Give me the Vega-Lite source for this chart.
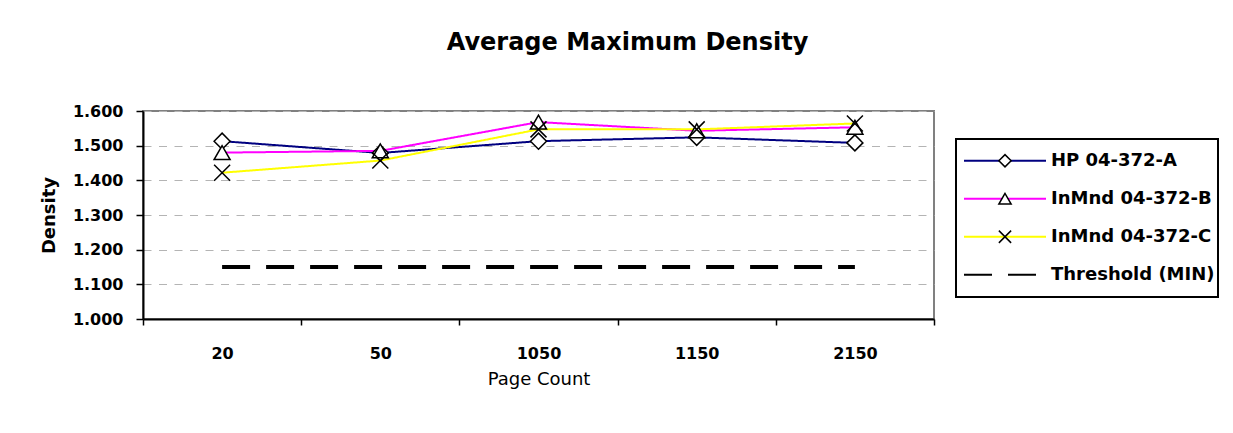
{
  "$schema": "https://vega.github.io/schema/vega-lite/v6.json",
  "width": 791,
  "height": 208,
  "autosize": {"type": "none"},
  "padding": {"left": 143, "top": 111, "right": 299, "bottom": 114},
  "background": "white",
  "title": {
    "text": "Average Maximum Density",
    "font": "DejaVu Sans",
    "fontSize": 24,
    "fontWeight": "bold",
    "color": "black",
    "anchor": "middle",
    "frame": "group",
    "dx": 89,
    "offset": 48
  },
  "config": {
    "font": "DejaVu Sans",
    "view": {"stroke": "#808080", "strokeWidth": 2},
    "legend": {"strokeWidth": 2},
    "axis": {
      "domainColor": "black",
      "domainWidth": 2,
      "tickColor": "black",
      "tickWidth": 1.5,
      "labelFont": "DejaVu Sans",
      "labelFontSize": 16,
      "labelFontWeight": "bold",
      "labelColor": "black",
      "titleFont": "DejaVu Sans",
      "titleColor": "black"
    }
  },
  "data": {
    "values": [
      {"page": 20, "series": "HP 04-372-A", "density": 1.513},
      {"page": 50, "series": "HP 04-372-A", "density": 1.479},
      {"page": 1050, "series": "HP 04-372-A", "density": 1.513},
      {"page": 1150, "series": "HP 04-372-A", "density": 1.524},
      {"page": 2150, "series": "HP 04-372-A", "density": 1.508},
      {"page": 20, "series": "InMnd 04-372-B", "density": 1.480},
      {"page": 50, "series": "InMnd 04-372-B", "density": 1.485},
      {"page": 1050, "series": "InMnd 04-372-B", "density": 1.568},
      {"page": 1150, "series": "InMnd 04-372-B", "density": 1.543},
      {"page": 2150, "series": "InMnd 04-372-B", "density": 1.553},
      {"page": 20, "series": "InMnd 04-372-C", "density": 1.422},
      {"page": 50, "series": "InMnd 04-372-C", "density": 1.457},
      {"page": 1050, "series": "InMnd 04-372-C", "density": 1.547},
      {"page": 1150, "series": "InMnd 04-372-C", "density": 1.547},
      {"page": 2150, "series": "InMnd 04-372-C", "density": 1.564},
      {"page": 20, "series": "Threshold (MIN)", "density": 1.15},
      {"page": 50, "series": "Threshold (MIN)", "density": 1.15},
      {"page": 1050, "series": "Threshold (MIN)", "density": 1.15},
      {"page": 1150, "series": "Threshold (MIN)", "density": 1.15},
      {"page": 2150, "series": "Threshold (MIN)", "density": 1.15}
    ]
  },
  "encoding": {
    "x": {
      "field": "page",
      "type": "ordinal",
      "scale": {"type": "band", "paddingInner": 0, "paddingOuter": 0},
      "axis": {
        "tickBand": "extent",
        "tickSize": 6,
        "labelAngle": 0,
        "labelPadding": 20,
        "grid": false,
        "title": "Page Count",
        "titleFontSize": 18,
        "titleFontWeight": "normal",
        "titlePadding": 9
      }
    },
    "y": {
      "field": "density",
      "type": "quantitative",
      "scale": {"domain": [1.0, 1.6], "nice": false, "zero": false},
      "axis": {
        "values": [1.0, 1.1, 1.2, 1.3, 1.4, 1.5, 1.6],
        "format": ".3f",
        "tickSize": 7,
        "labelPadding": 13,
        "grid": true,
        "gridColor": "#b4b4b4",
        "gridDash": [8, 7.5],
        "gridWidth": 1,
        "title": "Density",
        "titleFontSize": 18,
        "titleFontWeight": "bold",
        "titlePadding": 14
      }
    }
  },
  "layer": [
    {
      "mark": {"type": "line"},
      "encoding": {
        "color": {
          "field": "series",
          "type": "nominal",
          "scale": {
            "domain": ["HP 04-372-A", "InMnd 04-372-B", "InMnd 04-372-C", "Threshold (MIN)"],
            "range": ["#000080", "#FF00FF", "#FFFF00", "#000000"]
          },
          "legend": {
            "orient": "none",
            "legendX": 813,
            "legendY": 28,
            "title": null,
            "symbolType": "stroke",
            "symbolSize": 6724,
            "symbolStrokeWidth": 2,
            "clipHeight": 37.5,
            "rowPadding": 0,
            "padding": 3,
            "strokeColor": "black",
            "symbolOffset": 4,
            "labelOffset": 4,
            "labelFont": "DejaVu Sans",
            "labelFontSize": 18,
            "labelFontWeight": "bold",
            "labelColor": "black",
            "labelLimit": 400
          }
        },
        "strokeDash": {
          "field": "series",
          "type": "nominal",
          "scale": {
            "domain": ["HP 04-372-A", "InMnd 04-372-B", "InMnd 04-372-C", "Threshold (MIN)"],
            "range": [[1, 0], [1, 0], [1, 0], [28, 16]]
          }
        },
        "strokeWidth": {
          "condition": {"test": "datum.series == 'Threshold (MIN)'", "value": 4},
          "value": 2
        }
      }
    },
    {
      "transform": [{"filter": "datum.series != 'Threshold (MIN)'"}],
      "mark": {"type": "point", "filled": false, "fill": "white", "color": "black", "strokeWidth": 1.5, "size": 256, "opacity": 1},
      "encoding": {
        "shape": {
          "field": "series",
          "type": "nominal",
          "scale": {
            "domain": ["HP 04-372-A", "InMnd 04-372-B", "InMnd 04-372-C"],
            "range": ["diamond", "triangle-up", "M-1,-1L1,1M-1,1L1,-1"]
          },
          "legend": {
            "orient": "none",
            "legendX": 813,
            "legendY": 28,
            "title": null,
            "symbolSize": 150,
            "symbolFillColor": "white",
            "symbolStrokeColor": "black",
            "symbolStrokeWidth": 1.5,
            "clipHeight": 37.5,
            "rowPadding": 0,
            "padding": 3,
            "symbolOffset": 37,
            "labelExpr": "''",
            "labelOpacity": 0,
            "labelFontSize": 18,
            "labelFontWeight": "bold",
            "labelLimit": 400,
            "encoding": {
              "symbols": {
                "stroke": {"value": "black"},
                "fill": {"value": "white"},
                "strokeWidth": {"value": 1.5},
                "opacity": {"value": 1}
              }
            }
          }
        }
      }
    }
  ]
}
